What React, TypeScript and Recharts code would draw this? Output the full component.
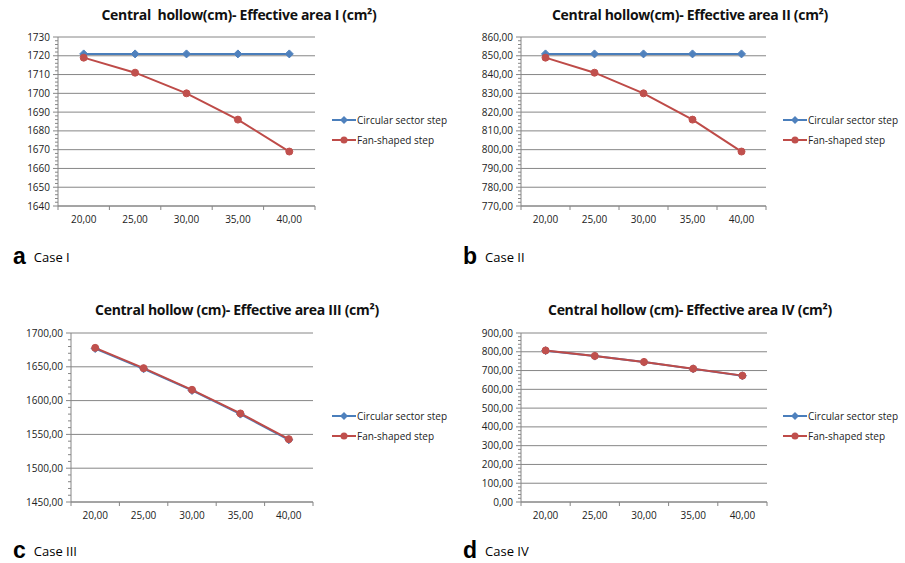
import React from "react";
import { CartesianGrid, Legend, Line, LineChart, XAxis, YAxis } from "recharts";

// central hollow (cm)
const hollow = [20, 25, 30, 35, 40];

const circularI = [1721, 1721, 1721, 1721, 1721];
const fanI = [1719, 1711, 1700, 1686, 1669];
const circularII = [851, 851, 851, 851, 851];
const fanII = [849, 841, 830, 816, 799];
const circularIII = [1677, 1647, 1615, 1580, 1542];
const fanIII = [1678, 1648, 1616, 1581, 1543];
const circularIV = [806, 777, 745, 709, 672];
const fanIV = [807, 778, 746, 710, 673];

const yTicksI = [1640, 1650, 1660, 1670, 1680, 1690, 1700, 1710, 1720, 1730];
const yTicksII = [770, 780, 790, 800, 810, 820, 830, 840, 850, 860];
const yTicksIII = [1450, 1500, 1550, 1600, 1650, 1700];
const yTicksIV = [0, 100, 200, 300, 400, 500, 600, 700, 800, 900];

const seriesNames = ["Circular sector step", "Fan-shaped step"];

const FONT = "'Open Sans', sans-serif";
const GRAY = "#868686";
const BLUE = "#4A7EBB";
const RED = "#BE4B48";

const fmt = (v: number, dec: number) => v.toFixed(dec).replace(".", ",");

function minorTicks(majors: number[]) {
  const out: number[] = [];
  for (let i = 0; i < majors.length - 1; i++) {
    const step = (majors[i + 1] - majors[i]) / 5;
    for (let k = 0; k < 5; k++) out.push(majors[i] + k * step);
  }
  out.push(majors[majors.length - 1]);
  return out;
}

// tick marks between categories, like a category axis
const xTicks = [hollow[0] - 2.5, ...hollow.flatMap((h) => [h, h + 2.5])];

const makeYTick = (majors: number[], dec: number) => (props: any) => {
  const { x, y, payload } = props;
  const v = payload.value;
  const ax = x + 8;
  const major = majors.some((m) => Math.abs(m - v) < 1e-6);
  return (
    <g>
      <line x1={ax - (major ? 5 : 3)} x2={ax} y1={y} y2={y} stroke={GRAY} />
      {major && (
        <text x={x} y={y} dy="0.35em" textAnchor="end" fontFamily={FONT} fontSize={10} fill="#222">
          {fmt(v, dec)}
        </text>
      )}
    </g>
  );
};

const XTick = (props: any) => {
  const { x, y, payload } = props;
  const v = payload.value;
  if (hollow.includes(v)) {
    return (
      <text x={x} y={y} dy="0.71em" textAnchor="middle" fontFamily={FONT} fontSize={10} fill="#222">
        {fmt(v, 2)}
      </text>
    );
  }
  return <line x1={x} x2={x} y1={y - 10} y2={y - 6} stroke={GRAY} />;
};

const Diamond = (props: any) => {
  const { cx, cy, index } = props;
  return (
    <path
      key={`d${index}`}
      d={`M${cx},${cy - 4}L${cx + 4},${cy}L${cx},${cy + 4}L${cx - 4},${cy}Z`}
      fill="#4F81BD"
      stroke="#4F81BD"
    />
  );
};

const LegendBox = () => (
  <div style={{ fontFamily: FONT, fontSize: 10, whiteSpace: "nowrap", color: "#222", width: 130 }}>
    {seriesNames.map((n, i) => (
      <div key={n} style={{ display: "flex", alignItems: "center", height: 20 }}>
        <svg width={24} height={10} style={{ flexShrink: 0, display: "block" }}>
          <line x1={0} x2={24} y1={5} y2={5} stroke={i === 0 ? BLUE : RED} strokeWidth={2} />
          {i === 0 ? (
            <path d="M12,1L16,5L12,9L8,5Z" fill="#4F81BD" />
          ) : (
            <circle cx={12} cy={5} r={3.5} fill="#C0504D" />
          )}
        </svg>
        <span style={{ marginLeft: 1 }}>{n}</span>
      </div>
    ))}
  </div>
);

interface PanelProps {
  left: number;
  top: number;
  yWidth: number;
  marginRight: number;
  circular: number[];
  fan: number[];
  yTicks: number[];
  dec: number;
  title: string;
  titleX: number;
  titleY: number;
  letter: string;
  caseName: string;
  caseY: number;
}

function Panel(p: PanelProps) {
  const data = hollow.map((x, i) => ({ x, circular: p.circular[i], fan: p.fan[i] }));
  return (
    <>
      <div
        style={{
          position: "absolute", left: p.titleX - 200, top: p.titleY - 10,
          width: 400, textAlign: "center", fontFamily: FONT, fontWeight: 700, fontSize: 14,
          letterSpacing: -0.3, lineHeight: "20px", color: "#111", whiteSpace: "pre",
        }}
      >
        {p.title}
      </div>
      <div style={{ position: "absolute", left: p.left, top: p.top }}>
        <LineChart
          width={450}
          height={240}
          data={data}
          margin={{ top: 37, right: p.marginRight, bottom: 9, left: 0 }}
        >
          <CartesianGrid vertical={false} horizontalValues={p.yTicks} stroke={GRAY} />
          <XAxis
            dataKey="x"
            type="number"
            domain={[hollow[0] - 2.5, hollow[hollow.length - 1] + 2.5]}
            ticks={xTicks}
            interval={0}
            tickLine={false}
            tickSize={4}
            tickMargin={6}
            height={25}
            axisLine={{ stroke: GRAY }}
            tick={XTick}
          />
          <YAxis
            type="number"
            domain={[p.yTicks[0], p.yTicks[p.yTicks.length - 1]]}
            ticks={minorTicks(p.yTicks)}
            interval={0}
            tickLine={false}
            tickSize={5}
            tickMargin={3}
            width={p.yWidth}
            axisLine={{ stroke: GRAY }}
            tick={makeYTick(p.yTicks, p.dec)}
          />
          <Legend
            layout="vertical"
            align="right"
            verticalAlign="top"
            content={LegendBox}
            wrapperStyle={{ left: 332 + (p.left > 0 ? 1 : 0), top: 110, width: 0, height: 0, right: "auto" }}
          />
          <Line
            dataKey="circular"
            name={seriesNames[0]}
            stroke={BLUE}
            strokeWidth={2}
            dot={Diamond}
            isAnimationActive={false}
          />
          <Line
            dataKey="fan"
            name={seriesNames[1]}
            stroke={RED}
            strokeWidth={2}
            dot={{ r: 3.5, fill: "#C0504D", stroke: "#C0504D", strokeWidth: 1 }}
            isAnimationActive={false}
          />
        </LineChart>
      </div>
      <div
        style={{
          position: "absolute", left: p.left + 13, top: p.caseY - 10, height: 20,
          display: "flex", alignItems: "center", color: "#000", lineHeight: "20px",
        }}
      >
        <span style={{ fontFamily: "'Liberation Sans', Arial", fontWeight: 700, fontSize: 23 }}>{p.letter}</span>
        <span style={{ fontFamily: FONT, fontSize: 13, marginLeft: 8, paddingTop: 2 }}>{p.caseName}</span>
      </div>
    </>
  );
}

export default function App() {
  return (
    <div style={{ position: "absolute", left: 0, top: 0, width: 905, height: 563, background: "#fff" }}>
      <Panel
        left={0} top={0} yWidth={58} marginRight={135}
        circular={circularI} fan={fanI} yTicks={yTicksI} dec={0}
        title="Central  hollow(cm)- Effective area I (cm²)" titleX={239} titleY={15}
        letter="a" caseName="Case I" caseY={256}
      />
      <Panel
        left={450} top={0} yWidth={71} marginRight={134}
        circular={circularII} fan={fanII} yTicks={yTicksII} dec={2}
        title="Central hollow(cm)- Effective area II (cm²)" titleX={690} titleY={15}
        letter="b" caseName="Case II" caseY={256}
      />
      <Panel
        left={0} top={296} yWidth={71} marginRight={137}
        circular={circularIII} fan={fanIII} yTicks={yTicksIII} dec={2}
        title="Central hollow (cm)- Effective area III (cm²)" titleX={237} titleY={310}
        letter="c" caseName="Case III" caseY={550}
      />
      <Panel
        left={450} top={296} yWidth={71} marginRight={133}
        circular={circularIV} fan={fanIV} yTicks={yTicksIV} dec={2}
        title="Central hollow (cm)- Effective area IV (cm²)" titleX={690} titleY={310}
        letter="d" caseName="Case IV" caseY={550}
      />
    </div>
  );
}
